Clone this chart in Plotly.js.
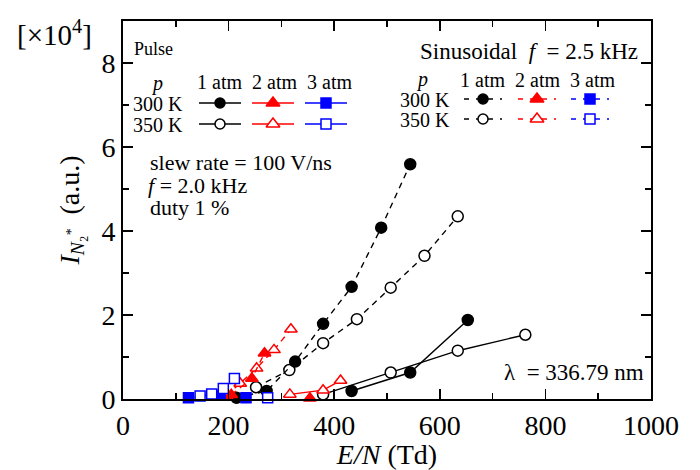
<!DOCTYPE html>
<html><head><meta charset="utf-8">
<script src="https://cdn.plot.ly/plotly-3.0.1.min.js"></script>
<style>body{margin:0;padding:0;background:#fff}#chart{width:700px;height:470px}</style>
</head><body><div id="chart"></div>
<script>
// ---------------- data (E/N in Td, intensity in 1e4 a.u.) ----------------
// Pulse (solid lines)
const pulse_1atm_300K_x = [433, 544, 653];
const pulse_1atm_300K_y = [0.19, 0.63, 1.88];
const pulse_1atm_350K_x = [379, 507, 634, 762];
const pulse_1atm_350K_y = [0.11, 0.63, 1.15, 1.53];
const pulse_2atm_300K_x = [354];
const pulse_2atm_300K_y = [0.02];
const pulse_2atm_350K_x = [316, 379, 412];
const pulse_2atm_350K_y = [0.11, 0.21, 0.44];
const pulse_3atm_300K_x = [233];
const pulse_3atm_300K_y = [0.03];
const pulse_3atm_350K_x = [274];
const pulse_3atm_350K_y = [0.03];
// Sinusoidal f = 2.5 kHz (dashed lines)
const sin_1atm_300K_x = [215, 272, 326, 379, 433, 489, 544];
const sin_1atm_300K_y = [0.03, 0.19, 0.89, 1.79, 2.67, 4.08, 5.59];
const sin_1atm_350K_x = [252, 315, 379, 443, 507, 571, 634];
const sin_1atm_350K_y = [0.28, 0.69, 1.33, 1.90, 2.65, 3.41, 4.35];
const sin_2atm_300K_x = [205, 244, 268];
const sin_2atm_300K_y = [0.10, 0.49, 1.09];
const sin_2atm_350K_x = [196, 222, 253, 286, 318];
const sin_2atm_350K_y = [0.08, 0.37, 0.73, 1.17, 1.66];
const sin_3atm_300K_x = [124, 184];
const sin_3atm_300K_y = [0.03, 0.09];
const sin_3atm_350K_x = [146, 168, 190, 211];
const sin_3atm_350K_y = [0.07, 0.12, 0.25, 0.49];

const xTickVals = [0, 200, 400, 600, 800, 1000];
const yTickVals = [0, 2, 4, 6, 8];

// ---------------- styling ----------------
const FONT = 'Liberation Serif';
const RED = '#ff0000', BLUE = '#0000ff', BLACK = '#000000';
const DASH = '6px,5px';

function series(x, y, color, symbol, filled, dashed, size) {
  return {
    x: x, y: y, type: 'scatter', mode: 'lines+markers', showlegend: false,
    line: {color: color, width: 1.4, dash: dashed ? DASH : 'solid'},
    marker: {symbol: symbol, size: size, color: filled ? color : '#ffffff',
             line: {color: color, width: 1.5}},
    cliponaxis: false
  };
}

const traces = [
  series(pulse_1atm_350K_x, pulse_1atm_350K_y, BLACK, 'circle', false, false, 11),
  series(pulse_1atm_300K_x, pulse_1atm_300K_y, BLACK, 'circle', true, false, 11),
  series(pulse_2atm_350K_x, pulse_2atm_350K_y, RED, 'triangle-up', false, false, 11),
  series(pulse_2atm_300K_x, pulse_2atm_300K_y, RED, 'triangle-up', true, false, 11),
  series(sin_1atm_350K_x, sin_1atm_350K_y, BLACK, 'circle', false, true, 11),
  series(sin_1atm_300K_x, sin_1atm_300K_y, BLACK, 'circle', true, true, 11),
  series(sin_2atm_350K_x, sin_2atm_350K_y, RED, 'triangle-up', false, true, 11),
  series(sin_2atm_300K_x, sin_2atm_300K_y, RED, 'triangle-up', true, true, 11),
  series(pulse_3atm_300K_x, pulse_3atm_300K_y, BLUE, 'square', true, false, 10),
  series(pulse_3atm_350K_x, pulse_3atm_350K_y, BLUE, 'square', false, false, 10),
  series(sin_3atm_300K_x, sin_3atm_300K_y, BLUE, 'square', true, true, 10),
  series(sin_3atm_350K_x, sin_3atm_350K_y, BLUE, 'square', false, true, 10)
];

// ---------------- legend samples (on pixel-like overlay axes) ----------------
const PL = 123, PR = 651, PT = 21, PB = 399;
function sample(cx, cy, half, color, symbol, filled, dashed, size) {
  traces.push({
    x: [cx - half, cx + half], y: [cy, cy], xaxis: 'x2', yaxis: 'y2',
    type: 'scatter', mode: 'lines', showlegend: false,
    line: {color: color, width: 1.4, dash: dashed ? '5px,7px' : 'solid'}
  });
  traces.push({
    x: [cx], y: [cy], xaxis: 'x2', yaxis: 'y2', type: 'scatter', mode: 'markers', showlegend: false,
    marker: {symbol: symbol, size: size, color: filled ? color : '#ffffff', line: {color: color, width: 1.5}}
  });
}
// Pulse legend
sample(220, 103, 21, BLACK, 'circle', true, false, 10);
sample(273, 103, 21, RED, 'triangle-up', true, false, 12);
sample(326, 103, 21, BLUE, 'square', true, false, 10);
sample(220, 124, 21, BLACK, 'circle', false, false, 10);
sample(273, 124, 21, RED, 'triangle-up', false, false, 12);
sample(326, 124, 21, BLUE, 'square', false, false, 10);
// Sinusoidal legend
sample(483, 99, 19, BLACK, 'circle', true, true, 10);
sample(537, 99, 19, RED, 'triangle-up', true, true, 12);
sample(590, 99, 19, BLUE, 'square', true, true, 10);
sample(483, 119, 19, BLACK, 'circle', false, true, 10);
sample(537, 119, 19, RED, 'triangle-up', false, true, 12);
sample(590, 119, 19, BLUE, 'square', false, true, 10);

// ---------------- annotations ----------------
function ann(text, px, py, size, xanchor, extra) {
  return Object.assign({
    text: text, xref: 'paper', yref: 'paper',
    x: (px - PL) / (PR - PL), y: (PB - py) / (PB - PT),
    xanchor: xanchor || 'center', yanchor: 'middle', showarrow: false, borderpad: 0,
    font: {family: FONT, size: size, color: '#000'}
  }, extra || {});
}
const annotations = [
  ann('[×10<sup>4</sup>]', 54, 33, 29, 'center'),
  ann('Pulse', 133, 49, 18, 'left'),
  ann('<i>p</i>', 157, 83, 20, 'center'),
  ann('1 atm', 219, 82, 20, 'center'),
  ann('2 atm', 274, 82, 20, 'center'),
  ann('3 atm', 329, 82, 20, 'center'),
  ann('300 K', 184, 104, 20, 'right'),
  ann('350 K', 184, 125, 20, 'right'),
  ann('Sinusoidal  <i>f</i>  = 2.5 kHz', 639, 52, 23, 'right'),
  ann('<i>p</i>', 422, 80, 20, 'center'),
  ann('1 atm', 482, 80, 20, 'center'),
  ann('2 atm', 537, 80, 20, 'center'),
  ann('3 atm', 592, 80, 20, 'center'),
  ann('300 K', 451, 100, 20, 'right'),
  ann('350 K', 451, 120, 20, 'right'),
  ann('slew rate = 100 V/ns', 149, 162, 22, 'left'),
  ann('<i>f</i> = 2.0 kHz', 147, 185, 22, 'left'),
  ann('duty 1 %', 149, 208, 22, 'left'),
  ann('λ  = 336.79 nm', 645, 372, 23, 'right')
];

const axisCommon = {
  showline: true, linewidth: 2, linecolor: '#000', mirror: 'allticks',
  ticks: 'inside', ticklen: 10, tickwidth: 1.5, tickcolor: '#000',
  showgrid: false, zeroline: false,
  tickfont: {family: FONT, size: 28, color: '#000'},
  minor: {ticks: 'inside', ticklen: 6, tickwidth: 1.5, tickcolor: '#000', showgrid: false}
};

const layout = {
  width: 700, height: 470,
  margin: {l: PL, r: 700 - PR, t: PT, b: 470 - PB},
  paper_bgcolor: '#fff', plot_bgcolor: '#fff',
  showlegend: false, hovermode: false,
  xaxis: Object.assign({}, axisCommon, {
    range: [0, 1000], tickmode: 'array', tickvals: xTickVals,
    minor: Object.assign({}, axisCommon.minor, {dtick: 100}),
    title: {text: '<i>E/N</i> (Td)', font: {family: FONT, size: 28, color: '#000'}, standoff: 6}
  }),
  yaxis: Object.assign({}, axisCommon, {
    range: [0, 9], tickmode: 'array', tickvals: yTickVals,
    minor: Object.assign({}, axisCommon.minor, {dtick: 1}),
    title: {text: '<i>I</i><sub><i>N</i>₂<sup>*</sup></sub>  (a.u.)', font: {family: FONT, size: 28, color: '#000'}, standoff: 14}
  }),
  xaxis2: {overlaying: 'x', range: [PL, PR], visible: false, fixedrange: true},
  yaxis2: {overlaying: 'y', range: [PB, PT], visible: false, fixedrange: true},
  annotations: annotations,
  font: {family: FONT, color: '#000'}
};

Plotly.newPlot('chart', traces, layout, {displayModeBar: false, staticPlot: true});
</script></body></html>
